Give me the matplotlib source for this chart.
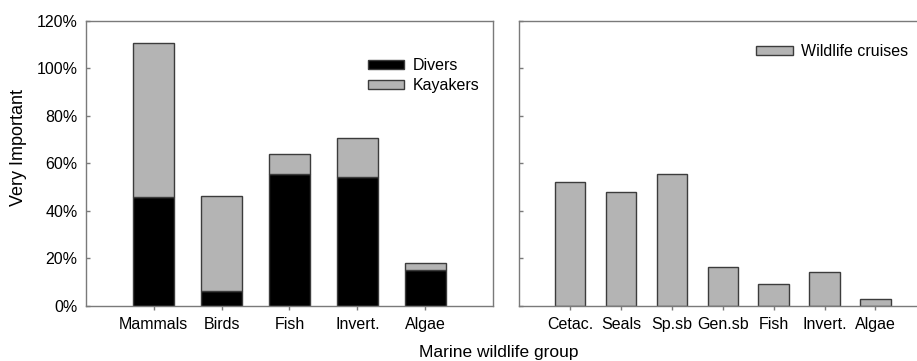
import numpy as np
import matplotlib.pyplot as plt
from matplotlib.ticker import FuncFormatter

plt.rcParams['font.family'] = ['Liberation Sans', 'DejaVu Sans']

# 左パネル：ダイバーとカヤッカー（積み上げ）
groups_left = ['Mammals', 'Birds', 'Fish', 'Invert.', 'Algae']
divers = [46.0, 6.4, 55.4, 54.4, 15.0]
kayakers = [64.7, 40.0, 8.5, 16.3, 3.2]

# 右パネル：ワイルドライフクルーズ
groups_right = ['Cetac.', 'Seals', 'Sp.sb', 'Gen.sb', 'Fish', 'Invert.', 'Algae']
cruises = [52.2, 47.9, 55.4, 16.5, 9.1, 14.2, 2.9]

GREY = '#b4b4b4'
EDGE = '#3c3c3c'
SPINE = '#7a7a7a'
W, H = 917, 361

fig = plt.figure(figsize=(W / 100, H / 100), dpi=100)
# 軸の位置（ピクセル単位で指定）
ax1 = fig.add_axes([86 / W, 1 - 306 / H, 407 / W, (306 - 20.7) / H])
ax2 = fig.add_axes([519.3 / W, 1 - 306 / H, 407 / W, (306 - 20.7) / H])

x1 = np.arange(1, len(groups_left) + 1)
ax1.bar(x1, divers, width=0.6, color='black', edgecolor=EDGE, linewidth=1,
        label='Divers')
ax1.bar(x1, kayakers, width=0.6, bottom=divers, color=GREY, edgecolor=EDGE,
        linewidth=1, label='Kayakers')

x2 = np.arange(1, len(groups_right) + 1)
ax2.bar(x2, cruises, width=0.6, color=GREY, edgecolor=EDGE, linewidth=1,
        label='Wildlife cruises')

for ax, x, labels, n in [(ax1, x1, groups_left, 6), (ax2, x2, groups_right, 8)]:
    ax.set_xlim(0, n)
    ax.set_ylim(0, 120)
    ax.set_yticks(np.arange(0, 121, 20))
    ax.set_xticks(x)
    ax.set_xticklabels(labels, fontsize=11.5)
    ax.tick_params(axis='x', direction='out', length=3, width=1, color=SPINE, pad=5)
    ax.tick_params(axis='y', direction='in', length=3, width=1, color=SPINE, pad=6)
    for s in ax.spines.values():
        s.set_color(SPINE)
        s.set_linewidth(1)

ax1.yaxis.set_major_formatter(FuncFormatter(lambda v, p: f'{v:.0f}%'))
ax1.tick_params(axis='y', labelsize=11.5)
ax2.tick_params(axis='y', labelleft=False)

ax1.set_ylabel('Very Important', fontsize=13)
ax1.yaxis.set_label_coords(-0.144, 0.556)
fig.text(499 / W, 1 - 353 / H, 'Marine wildlife group', fontsize=12.5,
         ha='center', va='center')

ax1.legend(loc='upper left', bbox_to_anchor=(367.7 / W, 1 - 58.5 / H),
           bbox_transform=fig.transFigure, frameon=False, fontsize=11.5,
           handlelength=2.3, handleheight=0.5, handletextpad=0.5,
           labelspacing=0.3, borderpad=0, borderaxespad=0)
ax2.legend(loc='upper left', bbox_to_anchor=(756.3 / W, 1 - 44.5 / H),
           bbox_transform=fig.transFigure, frameon=False, fontsize=11.5,
           handlelength=2.3, handleheight=0.5, handletextpad=0.5,
           borderpad=0, borderaxespad=0)

fig.savefig('out.png', dpi=100)
